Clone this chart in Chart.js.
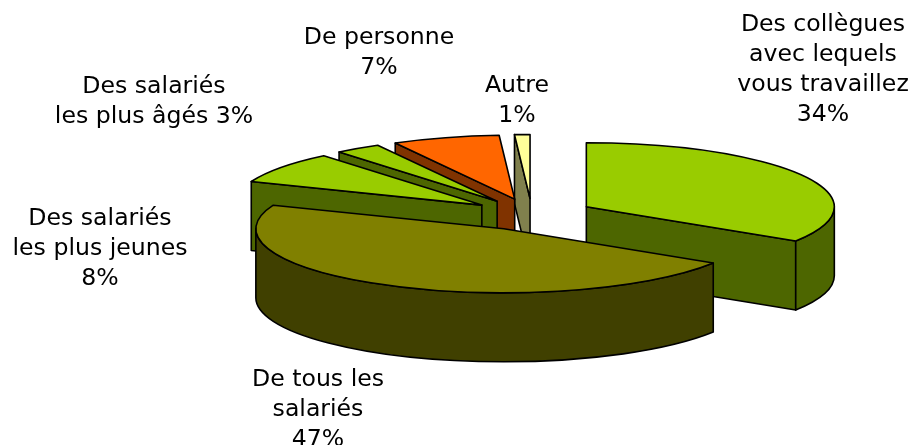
<!DOCTYPE html>
<html><head><meta charset="utf-8">
<style>html,body{margin:0;padding:0;background:#fff}canvas{display:block}</style>
<script src="https://cdn.jsdelivr.net/npm/chart.js@4/dist/chart.umd.js"></script>
</head><body><canvas id="c" width="912" height="445"></canvas>
<script>
const categories = ["Des collègues avec lequels vous travaillez","De tous les salariés","Des salariés les plus jeunes","Des salariés les plus âgés","De personne","Autre"];
const values = [34,47,8,3,7,1];
const topColors = ["#99cc00","#808000","#99cc00","#99cc00","#ff6600","#ffff99"];
const sideColors = ["#4d6600","#404000","#4d6600","#4d6600","#803300","#80804d"];
const labelLines = [
  ["Des collègues","avec lequels","vous travaillez","34%"],
  ["De tous les","salariés","47%"],
  ["Des salariés","les plus jeunes","8%"],
  ["Des salariés","les plus âgés 3%"],
  ["De personne","7%"],
  ["Autre","1%"]
];
const labelAnchors = [[823,25],[318,380],[100,219],[154,87],[379,38],[517,86]];
const drawOrder = [0,5,4,3,2,1];
const squash = 64/248, depth = 69, explode = 62, lineH = 30;

const pie3d = {
  id:'pie3d',
  beforeDatasetDraw(chart,args){
    const ctx = chart.ctx, arcs = args.meta.data;
    const cy0 = arcs[0].y;
    const ry = y => cy0 + (y-cy0)*squash;
    drawOrder.forEach(i=>{
      const a = arcs[i], s=a.startAngle, e=a.endAngle, r=a.outerRadius, mid=(s+e)/2;
      const ax=a.x+Math.cos(mid)*explode, ay=ry(a.y+Math.sin(mid)*explode);
      const px=t=>ax+Math.cos(t)*r, py=t=>ay+Math.sin(t)*r*squash;
      const rim=(t0,t1,dy,ccw)=>ctx.ellipse(ax,ay+dy,r,r*squash,0,t0,t1,ccw);
      ctx.lineWidth=1.6; ctx.strokeStyle='#000'; ctx.lineJoin='round';
      const paint=c=>{ctx.closePath();ctx.fillStyle=c;ctx.fill();ctx.stroke();};
      const cut=t=>{ctx.beginPath();ctx.moveTo(ax,ay);ctx.lineTo(px(t),py(t));ctx.lineTo(px(t),py(t)+depth);ctx.lineTo(ax,ay+depth);paint(sideColors[i]);};
      if(-Math.cos(s)>0) cut(s);
      if(Math.cos(e)>0) cut(e);
      [[s,e],[s-2*Math.PI,e-2*Math.PI]].forEach(([u,v])=>{
        const t0=Math.max(u,0), t1=Math.min(v,Math.PI);
        if(t1>t0){ctx.beginPath();rim(t0,t1,0,false);rim(t1,t0,depth,true);paint(sideColors[i]);}
      });
      ctx.beginPath();ctx.moveTo(ax,ay);rim(s,e,0,false);paint(topColors[i]);
    });
    return false;
  },
  afterDraw(chart){
    const ctx=chart.ctx;
    ctx.fillStyle='#000';ctx.font='23.6px "DejaVu Sans"';ctx.textAlign='center';ctx.textBaseline='middle';
    labelLines.forEach((ls,i)=>ls.forEach((l,j)=>ctx.fillText(l,labelAnchors[i][0],labelAnchors[i][1]+j*lineH)));
  }
};
new Chart(document.getElementById('c'),{
  type:'pie',
  data:{labels:categories,datasets:[{data:values,backgroundColor:topColors,borderColor:'#000',borderWidth:1}]},
  options:{responsive:false,animation:false,radius:248,
    layout:{padding:{left:152,right:0,top:0,bottom:16}},
    plugins:{legend:{display:false},tooltip:{enabled:false}}},
  plugins:[pie3d]
});
</script></body></html>
